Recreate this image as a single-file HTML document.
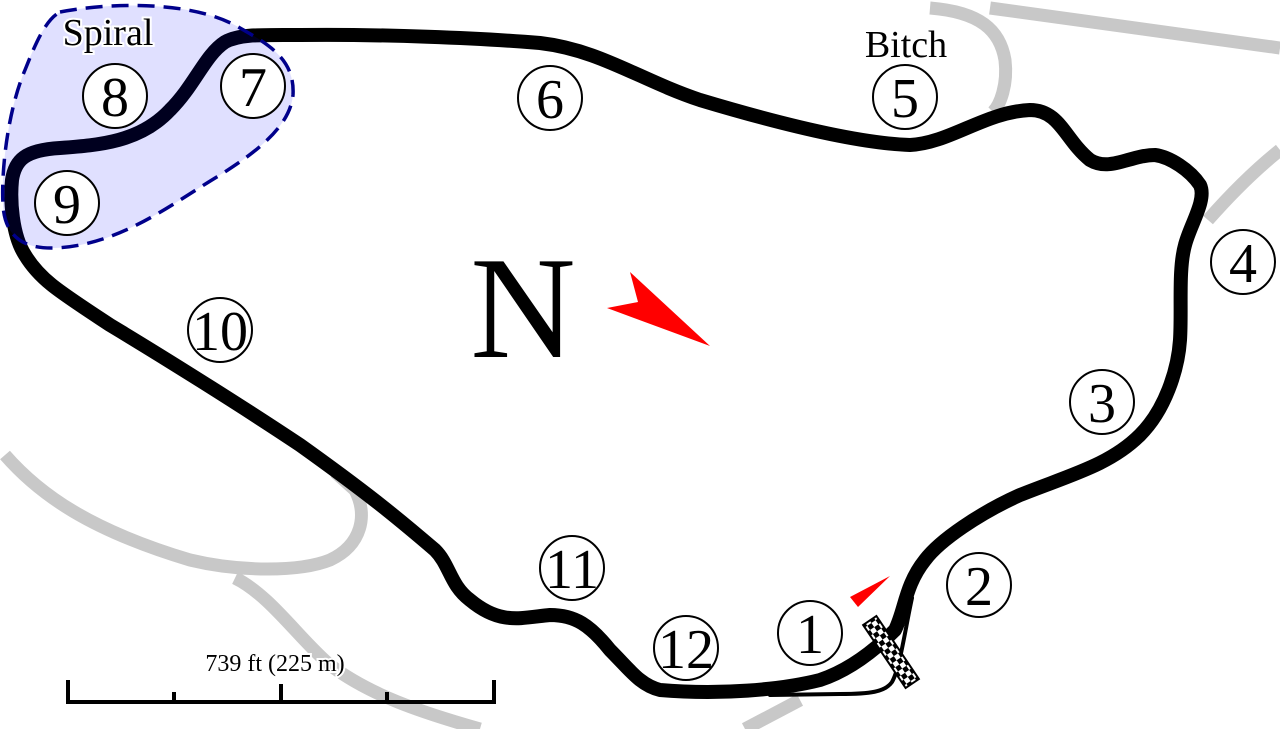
<!DOCTYPE html>
<html><head><meta charset="utf-8"><style>html,body{margin:0;padding:0;background:#fff}svg{display:block}</style></head>
<body>
<svg width="1280" height="729" viewBox="0 0 1280 729" xmlns="http://www.w3.org/2000/svg">
<defs>
<pattern id="chk" width="10" height="10" patternUnits="userSpaceOnUse">
<rect width="10" height="10" fill="#fff"/><rect width="5" height="5" fill="#000"/><rect x="5" y="5" width="5" height="5" fill="#000"/>
</pattern>
</defs>
<g fill="none" stroke="#c8c8c8" stroke-width="13" stroke-linecap="butt">
<path d="M930,8 C980,12 1000,30 1005,60 C1008,85 1000,105 993,112"/>
<path d="M990,8 L1280,48"/>
<path d="M1280,150 C1255,170 1230,195 1208,220"/>
<path d="M5,455 C40,495 90,530 190,560 C240,572 300,572 330,560 C362,545 368,515 355,490 L335,472"/>
<path d="M235,578 C270,595 300,640 330,665 C370,695 420,712 480,729"/>
<path d="M745,729 L800,700"/>
</g>
<g fill="none" stroke="#000" stroke-linejoin="round" stroke-linecap="round">
<path stroke-width="4" d="M912,598 C905,630 900,668 892,682 C885,692 870,694 840,694 L770,695"/>
<path stroke-width="14" d="M895,630 C875,650 850,670 820,680 C780,690 720,695 660,690 C640,685 630,670 610,650 C590,625 575,615 550,615 C520,618 500,625 470,600 C450,585 450,565 435,550 C400,520 370,495 300,445 C240,405 160,355 110,325 C60,292 40,280 25,255 C12,235 10,200 12,180 C15,160 25,150 60,148 C100,145 140,142 170,110 C195,85 205,55 225,42 C240,34 260,35 300,35 C380,34 480,38 540,43 C600,50 640,80 700,100 C760,118 850,143 910,145 C950,143 985,112 1030,110 C1060,110 1065,140 1090,160 C1110,172 1130,155 1155,155 C1170,157 1190,170 1200,185 C1207,200 1190,225 1185,245 C1178,270 1182,310 1180,340 C1178,370 1165,410 1140,435 C1110,465 1070,475 1020,495 C980,513 940,540 925,560 C905,585 905,610 895,630"/>
</g>
<path d="M60,12 C100,4 190,-2 240,28 C270,45 295,60 293,95 C290,125 260,150 220,175 C170,205 120,245 55,248 C25,249 5,238 3,205 C1,170 8,110 25,70 C35,45 45,20 60,12 Z" fill="#0000ff" fill-opacity="0.12" stroke="#00008b" stroke-width="3.5" stroke-dasharray="17,9"/>
<g transform="translate(891,652) rotate(-34)">
<rect x="-8" y="-38" width="16" height="76" fill="url(#chk)" stroke="#000" stroke-width="2"/>
</g>
<polygon points="607,308 710,346 630,272 638,302" fill="#f00"/>
<polygon points="850,597 890,576 858,607" fill="#f00"/>
<text x="523" y="357" font-family="Liberation Serif, serif" font-size="146" text-anchor="middle">N</text>
<g fill="#fff" stroke="#000" stroke-width="2">
<circle cx="115" cy="96" r="32"/><circle cx="253" cy="86" r="32"/><circle cx="67" cy="203" r="32"/>
<circle cx="550" cy="98" r="32"/><circle cx="905" cy="97" r="32"/><circle cx="1243" cy="262" r="32"/>
<circle cx="1102" cy="402" r="32"/><circle cx="979" cy="585" r="32"/><circle cx="810" cy="633" r="32"/>
<circle cx="686" cy="648" r="32"/><circle cx="572" cy="568" r="32"/><circle cx="220" cy="330" r="32"/>
</g>
<g font-family="Liberation Serif, serif" font-size="56" text-anchor="middle">
<text x="115" y="116">8</text><text x="253" y="106">7</text><text x="67" y="223">9</text>
<text x="550" y="118">6</text><text x="905" y="117">5</text><text x="1243" y="282">4</text>
<text x="1102" y="422">3</text><text x="979" y="605">2</text><text x="810" y="653">1</text>
<text x="686" y="668">12</text><text x="572" y="588">11</text><text x="220" y="350">10</text>
</g>
<g font-family="Liberation Serif, serif" font-size="38" text-anchor="middle">
<text x="108" y="45" stroke="#fff" stroke-width="4" paint-order="stroke">Spiral</text>
<text x="906" y="57">Bitch</text>
</g>
<text x="275" y="671" font-family="Liberation Serif, serif" font-size="24" text-anchor="middle" stroke="#fff" stroke-width="4" paint-order="stroke">739 ft (225 m)</text>
<path d="M68,680 V702 H494 V680 M174,702 V692 M281,702 V684 M387,702 V692" fill="none" stroke="#000" stroke-width="4"/>
</svg>
</body></html>
